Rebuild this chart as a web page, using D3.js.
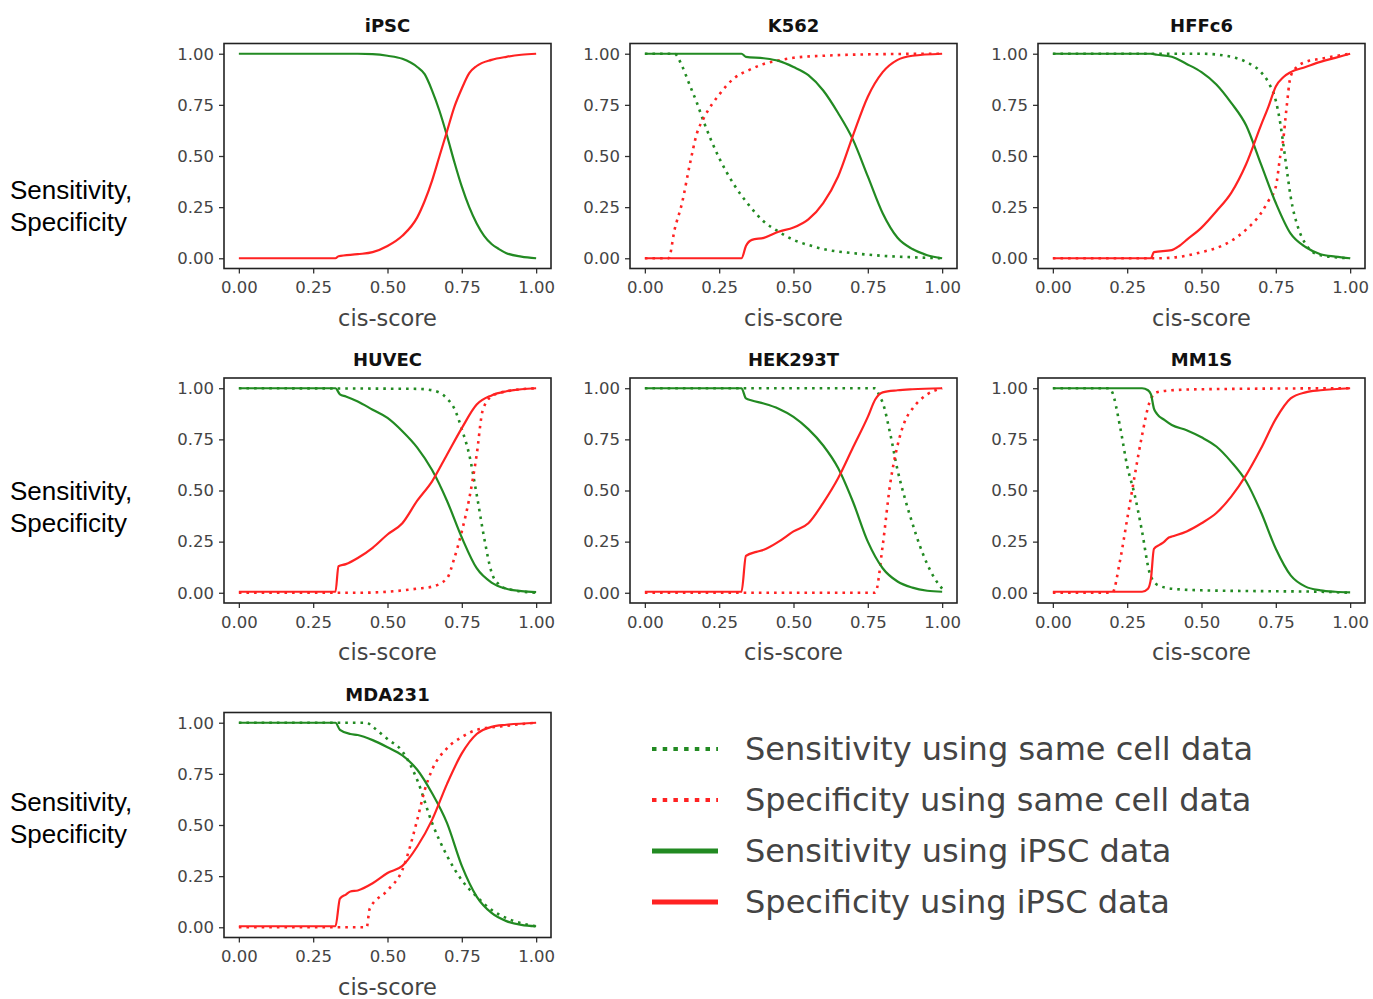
<!DOCTYPE html>
<html>
<head>
<meta charset="utf-8">
<script src="https://cdn.jsdelivr.net/npm/d3@7"></script>
<style>
  body { margin: 0; background: #fff; }
  svg { display: block; }
</style>
</head>
<body>
<div id="chart"></div>
<script>
// panel titles in reading order
var cellLines = ["iPSC", "K562", "HFFc6", "HUVEC", "HEK293T", "MM1S", "MDA231"];
var tickValues = [0, 0.25, 0.5, 0.75, 1];
var legendLabels = [
  "Sensitivity using same cell data",
  "Specificity using same cell data",
  "Sensitivity using iPSC data",
  "Specificity using iPSC data"
];

// [cis-score, value] pairs
// sensitivity using iPSC data (solid green)
var sensIPSC = {
  iPSC: [[0,1],[0.4,1],[0.45,0.998],[0.5,0.99],[0.55,0.975],[0.6,0.935],[0.625,0.9],[0.65,0.82],[0.675,0.72],[0.7,0.6],[0.725,0.47],[0.75,0.35],[0.775,0.25],[0.8,0.17],[0.825,0.11],[0.85,0.07],[0.875,0.045],[0.9,0.025],[0.95,0.008],[1,0]],
  K562: [[0,1],[0.325,1],[0.34,0.985],[0.4,0.978],[0.45,0.965],[0.5,0.935],[0.55,0.895],[0.6,0.82],[0.65,0.71],[0.7,0.58],[0.75,0.4],[0.8,0.22],[0.85,0.1],[0.9,0.045],[0.95,0.015],[1,0]],
  HFFc6: [[0,1],[0.33,1],[0.35,0.995],[0.4,0.985],[0.45,0.95],[0.5,0.91],[0.55,0.85],[0.6,0.76],[0.65,0.65],[0.7,0.46],[0.75,0.27],[0.8,0.12],[0.85,0.055],[0.9,0.02],[0.95,0.008],[1,0]],
  HUVEC: [[0,1],[0.325,1],[0.34,0.97],[0.36,0.96],[0.4,0.935],[0.45,0.895],[0.5,0.855],[0.55,0.79],[0.6,0.71],[0.65,0.6],[0.7,0.45],[0.75,0.27],[0.8,0.12],[0.85,0.05],[0.9,0.02],[0.95,0.008],[1,0.003]],
  HEK293T: [[0,1],[0.325,1],[0.34,0.95],[0.36,0.94],[0.4,0.925],[0.45,0.9],[0.5,0.86],[0.55,0.8],[0.6,0.72],[0.65,0.61],[0.7,0.445],[0.75,0.25],[0.8,0.12],[0.85,0.055],[0.9,0.025],[0.95,0.01],[1,0.005]],
  MM1S: [[0,1],[0.3,1],[0.32,0.99],[0.33,0.97],[0.34,0.9],[0.35,0.875],[0.375,0.845],[0.4,0.82],[0.45,0.795],[0.5,0.76],[0.55,0.715],[0.6,0.64],[0.65,0.545],[0.7,0.395],[0.75,0.215],[0.8,0.085],[0.85,0.03],[0.9,0.012],[0.95,0.005],[1,0.002]],
  MDA231: [[0,1],[0.325,1],[0.34,0.965],[0.375,0.945],[0.4,0.94],[0.45,0.915],[0.5,0.88],[0.55,0.84],[0.6,0.77],[0.65,0.655],[0.7,0.51],[0.75,0.3],[0.8,0.15],[0.85,0.07],[0.9,0.03],[0.95,0.012],[1,0.005]]
};
// specificity using iPSC data (solid red)
var specIPSC = {
  iPSC: [[0,0],[0.325,0],[0.335,0.01],[0.4,0.02],[0.45,0.03],[0.5,0.06],[0.55,0.11],[0.6,0.2],[0.625,0.28],[0.65,0.38],[0.675,0.5],[0.7,0.62],[0.725,0.74],[0.75,0.83],[0.775,0.905],[0.8,0.94],[0.85,0.97],[0.9,0.985],[0.95,0.995],[1,1]],
  K562: [[0,0],[0.325,0],[0.34,0.06],[0.36,0.09],[0.4,0.1],[0.45,0.13],[0.5,0.15],[0.55,0.19],[0.6,0.27],[0.65,0.4],[0.7,0.6],[0.75,0.79],[0.8,0.91],[0.85,0.97],[0.9,0.99],[1,1]],
  HFFc6: [[0,0],[0.33,0],[0.34,0.03],[0.4,0.04],[0.425,0.06],[0.45,0.09],[0.5,0.15],[0.55,0.23],[0.6,0.32],[0.65,0.46],[0.7,0.65],[0.725,0.74],[0.75,0.84],[0.775,0.885],[0.8,0.91],[0.85,0.935],[0.9,0.96],[0.95,0.98],[1,1]],
  HUVEC: [[0,0.005],[0.325,0.005],[0.335,0.13],[0.36,0.14],[0.4,0.17],[0.45,0.22],[0.5,0.285],[0.55,0.34],[0.6,0.45],[0.65,0.545],[0.7,0.675],[0.75,0.805],[0.8,0.92],[0.85,0.965],[0.9,0.985],[0.95,0.995],[1,1]],
  HEK293T: [[0,0.005],[0.325,0.005],[0.34,0.18],[0.375,0.2],[0.4,0.21],[0.45,0.25],[0.5,0.3],[0.55,0.34],[0.6,0.44],[0.65,0.56],[0.7,0.71],[0.75,0.86],[0.775,0.945],[0.8,0.98],[0.85,0.99],[0.9,0.995],[1,1]],
  MM1S: [[0,0.005],[0.3,0.005],[0.32,0.02],[0.33,0.07],[0.34,0.215],[0.36,0.235],[0.375,0.25],[0.39,0.27],[0.4,0.275],[0.45,0.3],[0.5,0.34],[0.55,0.39],[0.6,0.47],[0.65,0.575],[0.7,0.705],[0.75,0.85],[0.8,0.95],[0.85,0.98],[0.9,0.99],[1,1]],
  MDA231: [[0,0.005],[0.325,0.005],[0.34,0.14],[0.36,0.16],[0.375,0.175],[0.4,0.18],[0.45,0.215],[0.5,0.265],[0.55,0.3],[0.6,0.395],[0.65,0.525],[0.7,0.7],[0.75,0.85],[0.8,0.945],[0.85,0.98],[0.9,0.99],[1,1]]
};
// sensitivity using same cell data (dotted green); iPSC lies under the solid line
var sensSame = {
  K562: [[0,1],[0.1,1],[0.125,0.94],[0.15,0.85],[0.175,0.76],[0.2,0.66],[0.25,0.49],[0.3,0.36],[0.35,0.26],[0.4,0.18],[0.45,0.13],[0.5,0.09],[0.55,0.065],[0.6,0.045],[0.7,0.025],[0.8,0.012],[0.9,0.005],[1,0]],
  HFFc6: [[0,1],[0.5,1],[0.6,0.985],[0.65,0.96],[0.7,0.91],[0.725,0.86],[0.75,0.77],[0.765,0.66],[0.775,0.56],[0.79,0.4],[0.8,0.3],[0.825,0.15],[0.85,0.07],[0.875,0.03],[0.9,0.015],[1,0]],
  HUVEC: [[0,1],[0.6,0.997],[0.65,0.99],[0.7,0.95],[0.725,0.9],[0.75,0.8],[0.775,0.675],[0.8,0.48],[0.825,0.27],[0.85,0.1],[0.875,0.04],[0.9,0.02],[1,0]],
  HEK293T: [[0,1],[0.775,1],[0.79,0.96],[0.8,0.93],[0.825,0.78],[0.85,0.6],[0.875,0.46],[0.9,0.34],[0.925,0.23],[0.95,0.14],[0.975,0.07],[1,0.02]],
  MM1S: [[0,1],[0.19,1],[0.2,0.98],[0.225,0.82],[0.25,0.62],[0.275,0.48],[0.3,0.3],[0.325,0.1],[0.35,0.04],[0.4,0.02],[0.5,0.012],[0.7,0.008],[0.9,0.005],[1,0]],
  MDA231: [[0,1],[0.43,1],[0.45,0.98],[0.5,0.92],[0.55,0.86],[0.6,0.72],[0.65,0.51],[0.7,0.35],[0.75,0.23],[0.8,0.15],[0.85,0.085],[0.9,0.045],[0.95,0.02],[1,0.005]]
};
// specificity using same cell data (dotted red)
var specSame = {
  K562: [[0,0],[0.08,0],[0.1,0.14],[0.125,0.27],[0.15,0.45],[0.175,0.61],[0.2,0.69],[0.25,0.8],[0.3,0.88],[0.35,0.92],[0.4,0.95],[0.45,0.967],[0.5,0.98],[0.6,0.99],[0.8,0.998],[1,1]],
  HFFc6: [[0,0],[0.35,0],[0.4,0.003],[0.45,0.013],[0.5,0.03],[0.55,0.05],[0.6,0.085],[0.65,0.14],[0.7,0.22],[0.725,0.28],[0.75,0.35],[0.765,0.5],[0.775,0.58],[0.785,0.72],[0.8,0.89],[0.825,0.94],[0.85,0.96],[0.9,0.975],[1,1]],
  HUVEC: [[0,0],[0.4,0],[0.5,0.005],[0.6,0.02],[0.65,0.03],[0.7,0.07],[0.725,0.17],[0.75,0.3],[0.775,0.46],[0.8,0.675],[0.82,0.89],[0.85,0.96],[0.9,0.985],[1,1]],
  HEK293T: [[0,0],[0.775,0],[0.8,0.23],[0.825,0.53],[0.85,0.72],[0.875,0.84],[0.9,0.9],[0.95,0.97],[1,1]],
  MM1S: [[0,0],[0.2,0],[0.225,0.15],[0.25,0.36],[0.275,0.57],[0.3,0.77],[0.325,0.93],[0.35,0.98],[0.4,0.99],[0.5,0.995],[1,1]],
  MDA231: [[0,0],[0.43,0],[0.44,0.09],[0.5,0.18],[0.55,0.28],[0.6,0.525],[0.625,0.67],[0.65,0.77],[0.7,0.875],[0.75,0.93],[0.8,0.965],[0.9,0.985],[1,1]]
};

var W = 1373, H = 999;
var green = "#228a22", red = "#ff2222";
var pw = 327, ph = 225;
var colLeft = [224, 630, 1038];
var rowTop = [43.5, 378, 712.5];
var sideLabelY = [190, 491, 802];

var svg = d3.select("#chart").append("svg")
  .attr("width", W)
  .attr("height", H);

var x = d3.scaleLinear().domain([-0.05, 1.05]).range([0, pw]);
var y = d3.scaleLinear().domain([-0.05, 1.05]).range([ph, 0]);

var line = d3.line()
  .x(function(d) { return x(d[0]); })
  .y(function(d) { return y(d[1]); })
  .curve(d3.curveMonotoneX);

// left-hand axis labels, one per row
sideLabelY.forEach(function(cy) {
  var t = svg.append("text")
    .attr("x", 10)
    .attr("y", cy + 9)
    .style("font-family", "'Liberation Sans', Arial, sans-serif")
    .style("font-size", "26px")
    .attr("fill", "#000");
  t.append("tspan").attr("x", 10).text("Sensitivity,");
  t.append("tspan").attr("x", 10).attr("dy", 32).text("Specificity");
});

cellLines.forEach(function(name, i) {
  var g = svg.append("g")
    .attr("transform", "translate(" + colLeft[i % 3] + "," + rowTop[Math.floor(i / 3)] + ")");

  g.append("rect")
    .attr("width", pw)
    .attr("height", ph)
    .attr("fill", "#fff");

  // draw dotted first, solid on top
  if (sensSame[name]) {
    g.append("path").datum(sensSame[name])
      .attr("d", line).attr("fill", "none")
      .attr("stroke", green).attr("stroke-width", 2.6)
      .attr("stroke-dasharray", "2.6,5");
  }
  if (specSame[name]) {
    g.append("path").datum(specSame[name])
      .attr("d", line).attr("fill", "none")
      .attr("stroke", red).attr("stroke-width", 2.6)
      .attr("stroke-dasharray", "2.6,5");
  }
  g.append("path").datum(sensIPSC[name])
    .attr("d", line).attr("fill", "none")
    .attr("stroke", green).attr("stroke-width", 2.2);
  g.append("path").datum(specIPSC[name])
    .attr("d", line).attr("fill", "none")
    .attr("stroke", red).attr("stroke-width", 2.2);

  var xAxis = g.append("g")
    .attr("transform", "translate(0," + ph + ")")
    .call(d3.axisBottom(x).tickValues(tickValues).tickFormat(d3.format(".2f")).tickSize(5).tickPadding(8));
  var yAxis = g.append("g")
    .call(d3.axisLeft(y).tickValues(tickValues).tickFormat(d3.format(".2f")).tickSize(5).tickPadding(5));

  [xAxis, yAxis].forEach(function(a) {
    a.select(".domain").remove();
    a.selectAll("line").attr("stroke", "#333").attr("stroke-width", 1.3);
    a.selectAll("text")
      .style("font-family", "'DejaVu Sans', sans-serif")
      .style("font-size", "16.5px")
      .attr("fill", "#444");
  });

  // frame
  g.append("rect")
    .attr("width", pw)
    .attr("height", ph)
    .attr("fill", "none")
    .attr("stroke", "#222")
    .attr("stroke-width", 1.6);

  g.append("text")
    .attr("x", pw / 2)
    .attr("y", -12)
    .attr("text-anchor", "middle")
    .style("font-family", "'DejaVu Sans', sans-serif")
    .style("font-weight", "bold")
    .style("font-size", "18px")
    .attr("fill", "#111")
    .text(name);

  g.append("text")
    .attr("x", pw / 2)
    .attr("y", ph + 57)
    .attr("text-anchor", "middle")
    .style("font-family", "'DejaVu Sans', sans-serif")
    .style("font-size", "22.5px")
    .attr("fill", "#444")
    .text("cis-score");
});

// legend
var legendStyles = [
  { color: green, dash: "4.5,6.2", width: 4 },
  { color: red, dash: "4.5,6.2", width: 4 },
  { color: green, dash: null, width: 5 },
  { color: red, dash: null, width: 5 }
];
var legend = svg.append("g").attr("transform", "translate(652,749)");
legendLabels.forEach(function(label, i) {
  var row = legend.append("g").attr("transform", "translate(0," + i * 51 + ")");
  row.append("line")
    .attr("x1", 0).attr("x2", 66)
    .attr("stroke", legendStyles[i].color)
    .attr("stroke-width", legendStyles[i].width)
    .attr("stroke-dasharray", legendStyles[i].dash);
  row.append("text")
    .attr("x", 93)
    .attr("y", 11)
    .style("font-family", "'DejaVu Sans', sans-serif")
    .style("font-size", "32px")
    .attr("fill", "#444")
    .text(label);
});
</script>
</body>
</html>
